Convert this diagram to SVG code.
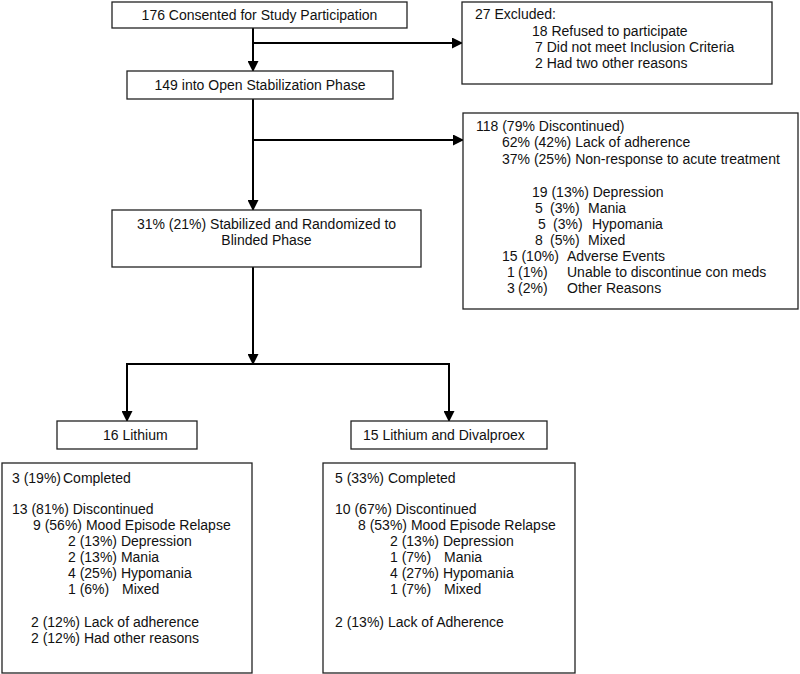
<svg xmlns="http://www.w3.org/2000/svg" width="800" height="674" viewBox="0 0 800 674">
<style>
.box{fill:#fff;stroke:#222;stroke-width:1.3}
text{font-family:"Liberation Sans",Arial,sans-serif;font-size:14px;fill:#111}
.c{text-anchor:middle}
.ln{fill:none;stroke:#000;stroke-width:2}
</style>
<defs>
<marker id="ah" markerUnits="userSpaceOnUse" markerWidth="11" markerHeight="11" refX="10" refY="5.5" orient="auto">
<path d="M0,0 L11,5.5 L0,11 Z" fill="#000"/>
</marker>
</defs>
<rect width="800" height="674" fill="#fff"/>
<g id="connectors">
<path class="ln" d="M253,28 V71" marker-end="url(#ah)"/>
<path class="ln" d="M253,43 H462" marker-end="url(#ah)"/>
<path class="ln" d="M253,99 V210" marker-end="url(#ah)"/>
<path class="ln" d="M253,140 H463" marker-end="url(#ah)"/>
<path class="ln" d="M253,267 V364" marker-end="url(#ah)"/>
<path class="ln" d="M127,421 V364 H449 V421" />
<path class="ln" d="M127,364 V421" marker-end="url(#ah)"/>
<path class="ln" d="M449,364 V421" marker-end="url(#ah)"/>
</g>
<g id="consented">
<rect class="box" x="112" y="2" width="295" height="26"/>
<text class="c" x="259.5" y="20">176 Consented for Study Participation</text>
</g>
<g id="excluded">
<rect class="box" x="462" y="2" width="310" height="82"/>
<text x="475" y="19">27 Excluded:</text>
<text x="532" y="36">18 Refused to participate</text>
<text x="535" y="52">7 Did not meet Inclusion Criteria</text>
<text x="535" y="68">2 Had two other reasons</text>
</g>
<g id="open-phase">
<rect class="box" x="127" y="71" width="266" height="28"/>
<text class="c" x="260" y="90">149 into Open Stabilization Phase</text>
</g>
<g id="discontinued-open">
<rect class="box" x="463" y="113" width="335" height="196"/>
<text x="476" y="131">118 (79% Discontinued)</text>
<text x="502" y="147">62% (42%) Lack of adherence</text>
<text x="502" y="164">37% (25%) Non-response to acute treatment</text>
<text x="532" y="197">19 (13%) Depression</text>
<text y="213"><tspan x="535">5</tspan><tspan x="550">(3%)</tspan><tspan x="588">Mania</tspan></text>
<text y="229"><tspan x="538">5</tspan><tspan x="553">(3%)</tspan><tspan x="592">Hypomania</tspan></text>
<text y="245"><tspan x="535">8</tspan><tspan x="550">(5%)</tspan><tspan x="588">Mixed</tspan></text>
<text y="261"><tspan x="502">15 (10%)</tspan><tspan x="567">Adverse Events</tspan></text>
<text y="277"><tspan x="507">1</tspan><tspan x="518">(1%)</tspan><tspan x="567">Unable to discontinue con meds</tspan></text>
<text y="293"><tspan x="507">3</tspan><tspan x="518">(2%)</tspan><tspan x="567">Other Reasons</tspan></text>
</g>
<g id="randomized">
<rect class="box" x="112" y="210" width="309" height="57"/>
<text class="c" x="266.5" y="229">31% (21%) Stabilized and Randomized to</text>
<text class="c" x="266.5" y="245">Blinded Phase</text>
</g>
<g id="lithium">
<rect class="box" x="57" y="421" width="140" height="28"/>
<text x="103" y="440">16 Lithium</text>
</g>
<g id="lithium-divalproex">
<rect class="box" x="351" y="421" width="196" height="28"/>
<text x="363" y="440">15 Lithium and Divalproex</text>
</g>
<g id="lithium-outcomes">
<rect class="box" x="2" y="463" width="250" height="210"/>
<text y="483"><tspan x="12">3 (19%)</tspan><tspan x="63">Completed</tspan></text>
<text x="12" y="514">13 (81%) Discontinued</text>
<text x="33" y="530">9 (56%) Mood Episode Relapse</text>
<text x="68" y="546">2 (13%) Depression</text>
<text x="68" y="562">2 (13%) Mania</text>
<text x="68" y="578">4 (25%) Hypomania</text>
<text y="594"><tspan x="68">1 (6%)</tspan><tspan x="122">Mixed</tspan></text>
<text x="31" y="627">2 (12%) Lack of adherence</text>
<text x="31" y="643">2 (12%) Had other reasons</text>
</g>
<g id="combo-outcomes">
<rect class="box" x="323" y="463" width="252" height="210"/>
<text x="335" y="483">5 (33%) Completed</text>
<text x="335" y="514">10 (67%) Discontinued</text>
<text x="358" y="530">8 (53%) Mood Episode Relapse</text>
<text x="390" y="546">2 (13%) Depression</text>
<text y="562"><tspan x="390">1 (7%)</tspan><tspan x="444">Mania</tspan></text>
<text x="390" y="578">4 (27%) Hypomania</text>
<text y="594"><tspan x="390">1 (7%)</tspan><tspan x="444">Mixed</tspan></text>
<text x="335" y="627">2 (13%) Lack of Adherence</text>
</g>
</svg>
